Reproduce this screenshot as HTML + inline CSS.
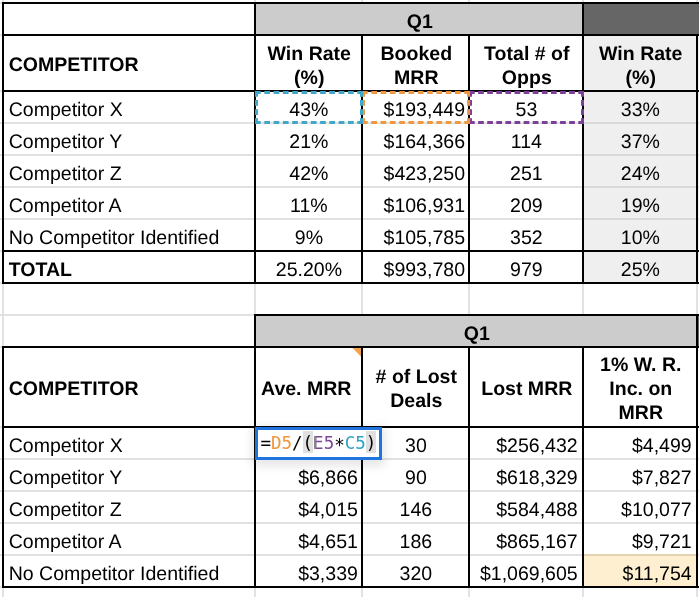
<!DOCTYPE html>
<html lang="en"><head><meta charset="utf-8"><title>Sheet</title><style>
html,body{margin:0;padding:0;background:#fff;}
body{width:699px;height:597px;position:relative;overflow:hidden;font-family:"Liberation Sans",sans-serif;color:#000;}
#L{position:absolute;left:0;top:0;width:699px;height:597px;will-change:transform;}
.r{position:absolute;display:block;}
.t{position:absolute;white-space:nowrap;text-rendering:geometricPrecision;}
.fx{position:absolute;box-sizing:content-box;border:3px solid #1f74e0;background:#fff;box-shadow:0 3px 9px 3px rgba(60,64,67,.13);}
.ft{position:absolute;left:2.4px;top:2px;font-family:"DejaVu Sans Mono","Liberation Mono",monospace;font-size:17.5px;line-height:22px;white-space:nowrap;color:#000;}
.hl{background:#e0e0e0;padding-top:2.3px;}
.as{position:relative;top:2px;}
</style></head><body><div id="L">
<div class="r" style="left:256px;top:4px;width:326px;height:30px;background:#cccccc;"></div>
<div class="r" style="left:584px;top:4px;width:115px;height:30px;background:#666666;"></div>
<div class="r" style="left:584px;top:36px;width:112px;height:246px;background:#efefef;"></div>
<div class="r" style="left:256px;top:316px;width:440px;height:30px;background:#cccccc;"></div>
<div class="r" style="left:584px;top:556px;width:112px;height:30px;background:#fdefd0;"></div>
<div class="r" style="left:698px;top:316px;width:1px;height:30px;background:#666666;"></div>
<div class="r" style="left:698px;top:36px;width:1px;height:246px;background:#efefef;"></div>
<div class="r" style="left:0px;top:122px;width:699px;height:2px;background:#e1e3e2;"></div>
<div class="r" style="left:584px;top:122px;width:115px;height:2px;background:#d8d9d9;"></div>
<div class="r" style="left:0px;top:154px;width:699px;height:2px;background:#e1e3e2;"></div>
<div class="r" style="left:584px;top:154px;width:115px;height:2px;background:#d8d9d9;"></div>
<div class="r" style="left:0px;top:186px;width:699px;height:2px;background:#e1e3e2;"></div>
<div class="r" style="left:584px;top:186px;width:115px;height:2px;background:#d8d9d9;"></div>
<div class="r" style="left:0px;top:218px;width:699px;height:2px;background:#e1e3e2;"></div>
<div class="r" style="left:584px;top:218px;width:115px;height:2px;background:#d8d9d9;"></div>
<div class="r" style="left:0px;top:314px;width:256px;height:2px;background:#e1e3e2;"></div>
<div class="r" style="left:0px;top:458px;width:699px;height:2px;background:#e1e3e2;"></div>
<div class="r" style="left:0px;top:490px;width:699px;height:2px;background:#e1e3e2;"></div>
<div class="r" style="left:0px;top:522px;width:699px;height:2px;background:#e1e3e2;"></div>
<div class="r" style="left:0px;top:554px;width:699px;height:2px;background:#e1e3e2;"></div>
<div class="r" style="left:584px;top:554px;width:112px;height:2px;background:#e2d3b3;"></div>
<div class="r" style="left:0px;top:2px;width:2px;height:2px;background:#e1e3e2;"></div>
<div class="r" style="left:698px;top:2px;width:1px;height:2px;background:#e1e3e2;"></div>
<div class="r" style="left:0px;top:34px;width:2px;height:2px;background:#e1e3e2;"></div>
<div class="r" style="left:698px;top:34px;width:1px;height:2px;background:#e1e3e2;"></div>
<div class="r" style="left:0px;top:90px;width:2px;height:2px;background:#e1e3e2;"></div>
<div class="r" style="left:698px;top:90px;width:1px;height:2px;background:#e1e3e2;"></div>
<div class="r" style="left:0px;top:250px;width:2px;height:2px;background:#e1e3e2;"></div>
<div class="r" style="left:698px;top:250px;width:1px;height:2px;background:#e1e3e2;"></div>
<div class="r" style="left:0px;top:282px;width:2px;height:2px;background:#e1e3e2;"></div>
<div class="r" style="left:698px;top:282px;width:1px;height:2px;background:#e1e3e2;"></div>
<div class="r" style="left:0px;top:346px;width:2px;height:2px;background:#e1e3e2;"></div>
<div class="r" style="left:698px;top:346px;width:1px;height:2px;background:#e1e3e2;"></div>
<div class="r" style="left:0px;top:426px;width:2px;height:2px;background:#e1e3e2;"></div>
<div class="r" style="left:698px;top:426px;width:1px;height:2px;background:#e1e3e2;"></div>
<div class="r" style="left:0px;top:586px;width:2px;height:2px;background:#e1e3e2;"></div>
<div class="r" style="left:698px;top:586px;width:1px;height:2px;background:#e1e3e2;"></div>
<div class="r" style="left:2px;top:0px;width:2px;height:2px;background:#e1e3e2;"></div>
<div class="r" style="left:2px;top:284px;width:2px;height:30px;background:#e1e3e2;"></div>
<div class="r" style="left:2px;top:588px;width:2px;height:9px;background:#e1e3e2;"></div>
<div class="r" style="left:254px;top:0px;width:2px;height:2px;background:#e1e3e2;"></div>
<div class="r" style="left:254px;top:284px;width:2px;height:30px;background:#e1e3e2;"></div>
<div class="r" style="left:254px;top:588px;width:2px;height:9px;background:#e1e3e2;"></div>
<div class="r" style="left:361px;top:0px;width:2px;height:2px;background:#e1e3e2;"></div>
<div class="r" style="left:361px;top:284px;width:2px;height:30px;background:#e1e3e2;"></div>
<div class="r" style="left:361px;top:588px;width:2px;height:9px;background:#e1e3e2;"></div>
<div class="r" style="left:468px;top:0px;width:2px;height:2px;background:#e1e3e2;"></div>
<div class="r" style="left:468px;top:284px;width:2px;height:30px;background:#e1e3e2;"></div>
<div class="r" style="left:468px;top:588px;width:2px;height:9px;background:#e1e3e2;"></div>
<div class="r" style="left:582px;top:0px;width:2px;height:2px;background:#e1e3e2;"></div>
<div class="r" style="left:582px;top:284px;width:2px;height:30px;background:#e1e3e2;"></div>
<div class="r" style="left:582px;top:588px;width:2px;height:9px;background:#e1e3e2;"></div>
<div class="r" style="left:696px;top:0px;width:2px;height:2px;background:#e1e3e2;"></div>
<div class="r" style="left:696px;top:284px;width:2px;height:30px;background:#e1e3e2;"></div>
<div class="r" style="left:696px;top:588px;width:2px;height:9px;background:#e1e3e2;"></div>
<div class="r" style="left:2px;top:314px;width:2px;height:32px;background:#e1e3e2;"></div>
<div class="r" style="left:2px;top:2px;width:697px;height:2px;background:#000;"></div>
<div class="r" style="left:2px;top:34px;width:697px;height:2px;background:#000;"></div>
<div class="r" style="left:2px;top:90px;width:697px;height:2px;background:#000;"></div>
<div class="r" style="left:2px;top:250px;width:697px;height:2px;background:#000;"></div>
<div class="r" style="left:2px;top:282px;width:697px;height:2px;background:#000;"></div>
<div class="r" style="left:2px;top:2px;width:2px;height:282px;background:#000;"></div>
<div class="r" style="left:254px;top:2px;width:2px;height:282px;background:#000;"></div>
<div class="r" style="left:582px;top:2px;width:2px;height:282px;background:#000;"></div>
<div class="r" style="left:361px;top:34px;width:2px;height:250px;background:#000;"></div>
<div class="r" style="left:468px;top:34px;width:2px;height:250px;background:#000;"></div>
<div class="r" style="left:696px;top:34px;width:2px;height:250px;background:#000;"></div>
<div class="r" style="left:254px;top:314px;width:445px;height:2px;background:#000;"></div>
<div class="r" style="left:2px;top:346px;width:697px;height:2px;background:#000;"></div>
<div class="r" style="left:2px;top:426px;width:697px;height:2px;background:#000;"></div>
<div class="r" style="left:2px;top:586px;width:697px;height:2px;background:#000;"></div>
<div class="r" style="left:2px;top:346px;width:2px;height:242px;background:#000;"></div>
<div class="r" style="left:254px;top:314px;width:2px;height:274px;background:#000;"></div>
<div class="r" style="left:361px;top:346px;width:2px;height:242px;background:#000;"></div>
<div class="r" style="left:468px;top:346px;width:2px;height:242px;background:#000;"></div>
<div class="r" style="left:582px;top:346px;width:2px;height:242px;background:#000;"></div>
<div class="r" style="left:696px;top:314px;width:2px;height:274px;background:#000;"></div>
<svg class="r" style="left:351px;top:348px" width="10" height="10" viewBox="0 0 10 10"><polygon points="1.5,0 10,0 10,8.5" fill="#f2a24b"/></svg>
<div class="t" style="left:319.8px;top:10px;width:200px;text-align:center;font-size:19.55px;line-height:24px;font-weight:bold;">Q1</div>
<div class="t" style="left:8.7px;top:53px;width:240px;text-align:left;font-size:19.55px;line-height:24px;font-weight:bold;">COMPETITOR</div>
<div class="t" style="left:256.8px;top:42px;width:105px;text-align:center;font-size:19.55px;line-height:24px;font-weight:bold;">Win Rate<br>(%)</div>
<div class="t" style="left:363.8px;top:42px;width:105px;text-align:center;font-size:19.55px;line-height:24px;font-weight:bold;">Booked<br>MRR</div>
<div class="t" style="left:470.8px;top:42px;width:112px;text-align:center;font-size:19.55px;line-height:24px;font-weight:bold;">Total # of<br>Opps</div>
<div class="t" style="left:584.8px;top:42px;width:112px;text-align:center;font-size:19.55px;line-height:24px;font-weight:bold;">Win Rate<br>(%)</div>
<div class="t" style="left:8.7px;top:98px;width:245px;text-align:left;font-size:19.55px;line-height:24px;">Competitor X</div>
<div class="t" style="left:256.4px;top:98px;width:105px;text-align:center;font-size:19.55px;line-height:24px;">43%</div>
<div class="t" style="left:363px;top:98px;width:102px;text-align:right;font-size:19.55px;line-height:24px;">$193,449</div>
<div class="t" style="left:470.4px;top:98px;width:112px;text-align:center;font-size:19.55px;line-height:24px;">53</div>
<div class="t" style="left:584.4px;top:98px;width:112px;text-align:center;font-size:19.55px;line-height:24px;">33%</div>
<div class="t" style="left:8.7px;top:130px;width:245px;text-align:left;font-size:19.55px;line-height:24px;">Competitor Y</div>
<div class="t" style="left:256.4px;top:130px;width:105px;text-align:center;font-size:19.55px;line-height:24px;">21%</div>
<div class="t" style="left:363px;top:130px;width:102px;text-align:right;font-size:19.55px;line-height:24px;">$164,366</div>
<div class="t" style="left:470.4px;top:130px;width:112px;text-align:center;font-size:19.55px;line-height:24px;">114</div>
<div class="t" style="left:584.4px;top:130px;width:112px;text-align:center;font-size:19.55px;line-height:24px;">37%</div>
<div class="t" style="left:8.7px;top:162px;width:245px;text-align:left;font-size:19.55px;line-height:24px;">Competitor Z</div>
<div class="t" style="left:256.4px;top:162px;width:105px;text-align:center;font-size:19.55px;line-height:24px;">42%</div>
<div class="t" style="left:363px;top:162px;width:102px;text-align:right;font-size:19.55px;line-height:24px;">$423,250</div>
<div class="t" style="left:470.4px;top:162px;width:112px;text-align:center;font-size:19.55px;line-height:24px;">251</div>
<div class="t" style="left:584.4px;top:162px;width:112px;text-align:center;font-size:19.55px;line-height:24px;">24%</div>
<div class="t" style="left:8.7px;top:194px;width:245px;text-align:left;font-size:19.55px;line-height:24px;">Competitor A</div>
<div class="t" style="left:256.4px;top:194px;width:105px;text-align:center;font-size:19.55px;line-height:24px;">11%</div>
<div class="t" style="left:363px;top:194px;width:102px;text-align:right;font-size:19.55px;line-height:24px;">$106,931</div>
<div class="t" style="left:470.4px;top:194px;width:112px;text-align:center;font-size:19.55px;line-height:24px;">209</div>
<div class="t" style="left:584.4px;top:194px;width:112px;text-align:center;font-size:19.55px;line-height:24px;">19%</div>
<div class="t" style="left:8.7px;top:226px;width:245px;text-align:left;font-size:19.55px;line-height:24px;">No Competitor Identified</div>
<div class="t" style="left:256.4px;top:226px;width:105px;text-align:center;font-size:19.55px;line-height:24px;">9%</div>
<div class="t" style="left:363px;top:226px;width:102px;text-align:right;font-size:19.55px;line-height:24px;">$105,785</div>
<div class="t" style="left:470.4px;top:226px;width:112px;text-align:center;font-size:19.55px;line-height:24px;">352</div>
<div class="t" style="left:584.4px;top:226px;width:112px;text-align:center;font-size:19.55px;line-height:24px;">10%</div>
<div class="t" style="left:8.7px;top:258px;width:245px;text-align:left;font-size:19.55px;line-height:24px;font-weight:bold;">TOTAL</div>
<div class="t" style="left:256.4px;top:258px;width:105px;text-align:center;font-size:19.55px;line-height:24px;">25.20%</div>
<div class="t" style="left:363px;top:258px;width:102px;text-align:right;font-size:19.55px;line-height:24px;">$993,780</div>
<div class="t" style="left:470.4px;top:258px;width:112px;text-align:center;font-size:19.55px;line-height:24px;">979</div>
<div class="t" style="left:584.4px;top:258px;width:112px;text-align:center;font-size:19.55px;line-height:24px;">25%</div>
<div class="t" style="left:376.8px;top:322px;width:200px;text-align:center;font-size:19.55px;line-height:24px;font-weight:bold;">Q1</div>
<div class="t" style="left:8.7px;top:377px;width:240px;text-align:left;font-size:19.55px;line-height:24px;font-weight:bold;">COMPETITOR</div>
<div class="t" style="left:261px;top:377px;width:100px;text-align:left;font-size:19.55px;line-height:24px;font-weight:bold;">Ave. MRR</div>
<div class="t" style="left:363.8px;top:365px;width:105px;text-align:center;font-size:19.55px;line-height:24px;font-weight:bold;"># of Lost<br>Deals</div>
<div class="t" style="left:470.8px;top:377px;width:112px;text-align:center;font-size:19.55px;line-height:24px;font-weight:bold;">Lost MRR</div>
<div class="t" style="left:584.8px;top:353px;width:112px;text-align:center;font-size:19.55px;line-height:24px;font-weight:bold;">1% W. R.<br>Inc. on<br>MRR</div>
<div class="t" style="left:8.7px;top:434px;width:245px;text-align:left;font-size:19.55px;line-height:24px;">Competitor X</div>
<div class="t" style="left:363.4px;top:434px;width:105px;text-align:center;font-size:19.55px;line-height:24px;">30</div>
<div class="t" style="left:470px;top:434px;width:107.7px;text-align:right;font-size:19.55px;line-height:24px;">$256,432</div>
<div class="t" style="left:584px;top:434px;width:107.7px;text-align:right;font-size:19.55px;line-height:24px;">$4,499</div>
<div class="t" style="left:8.7px;top:466px;width:245px;text-align:left;font-size:19.55px;line-height:24px;">Competitor Y</div>
<div class="t" style="left:256px;top:466px;width:101.9px;text-align:right;font-size:19.55px;line-height:24px;">$6,866</div>
<div class="t" style="left:363.4px;top:466px;width:105px;text-align:center;font-size:19.55px;line-height:24px;">90</div>
<div class="t" style="left:470px;top:466px;width:107.7px;text-align:right;font-size:19.55px;line-height:24px;">$618,329</div>
<div class="t" style="left:584px;top:466px;width:107.7px;text-align:right;font-size:19.55px;line-height:24px;">$7,827</div>
<div class="t" style="left:8.7px;top:498px;width:245px;text-align:left;font-size:19.55px;line-height:24px;">Competitor Z</div>
<div class="t" style="left:256px;top:498px;width:101.9px;text-align:right;font-size:19.55px;line-height:24px;">$4,015</div>
<div class="t" style="left:363.4px;top:498px;width:105px;text-align:center;font-size:19.55px;line-height:24px;">146</div>
<div class="t" style="left:470px;top:498px;width:107.7px;text-align:right;font-size:19.55px;line-height:24px;">$584,488</div>
<div class="t" style="left:584px;top:498px;width:107.7px;text-align:right;font-size:19.55px;line-height:24px;">$10,077</div>
<div class="t" style="left:8.7px;top:530px;width:245px;text-align:left;font-size:19.55px;line-height:24px;">Competitor A</div>
<div class="t" style="left:256px;top:530px;width:101.9px;text-align:right;font-size:19.55px;line-height:24px;">$4,651</div>
<div class="t" style="left:363.4px;top:530px;width:105px;text-align:center;font-size:19.55px;line-height:24px;">186</div>
<div class="t" style="left:470px;top:530px;width:107.7px;text-align:right;font-size:19.55px;line-height:24px;">$865,167</div>
<div class="t" style="left:584px;top:530px;width:107.7px;text-align:right;font-size:19.55px;line-height:24px;">$9,721</div>
<div class="t" style="left:8.7px;top:562px;width:245px;text-align:left;font-size:19.55px;line-height:24px;">No Competitor Identified</div>
<div class="t" style="left:256px;top:562px;width:101.9px;text-align:right;font-size:19.55px;line-height:24px;">$3,339</div>
<div class="t" style="left:363.4px;top:562px;width:105px;text-align:center;font-size:19.55px;line-height:24px;">320</div>
<div class="t" style="left:470px;top:562px;width:107.7px;text-align:right;font-size:19.55px;line-height:24px;">$1,069,605</div>
<div class="t" style="left:584px;top:562px;width:107.7px;text-align:right;font-size:19.55px;line-height:24px;">$11,754</div>
<svg class="r" style="left:469px;top:91px" width="115" height="33" viewBox="0 0 115 33"><g fill="none" stroke="#7d3f98" stroke-width="3"><path d="M0 1.5H115" stroke-dasharray="5.7 3.408"/><path d="M0 31.5H115" stroke-dasharray="5.7 3.408"/><path d="M1.5 0V33" stroke-dasharray="5.7 3.400"/><path d="M113.5 0V33" stroke-dasharray="5.7 3.400"/></g></svg>
<svg class="r" style="left:362px;top:91px" width="108" height="33" viewBox="0 0 108 33"><g fill="none" stroke="#ef9840" stroke-width="3"><path d="M0 1.5H108" stroke-dasharray="5.7 3.600"/><path d="M0 31.5H108" stroke-dasharray="5.7 3.600"/><path d="M1.5 0V33" stroke-dasharray="5.7 3.400"/><path d="M106.5 0V33" stroke-dasharray="5.7 3.400"/></g></svg>
<svg class="r" style="left:255px;top:91px" width="108" height="33" viewBox="0 0 108 33"><g fill="none" stroke="#41a6c8" stroke-width="3"><path d="M0 1.5H108" stroke-dasharray="5.7 3.600"/><path d="M0 31.5H108" stroke-dasharray="5.7 3.600"/><path d="M1.5 0V33" stroke-dasharray="5.7 3.400"/><path d="M106.5 0V33" stroke-dasharray="5.7 3.400"/></g></svg>
<div class="fx" style="left:255px;top:427px;width:121px;height:27px;"><span class="ft">=<span style="color:#f0953a">D5</span>/<span class="hl">(</span><span style="color:#7a4797">E5</span><span class="as">*</span><span style="color:#2aa3c6">C5</span><span class="hl">)</span></span></div>
<div class="r" style="left:314.4px;top:435.8px;width:1.6px;height:13.2px;background:#858585;"></div>
</div></body></html>
